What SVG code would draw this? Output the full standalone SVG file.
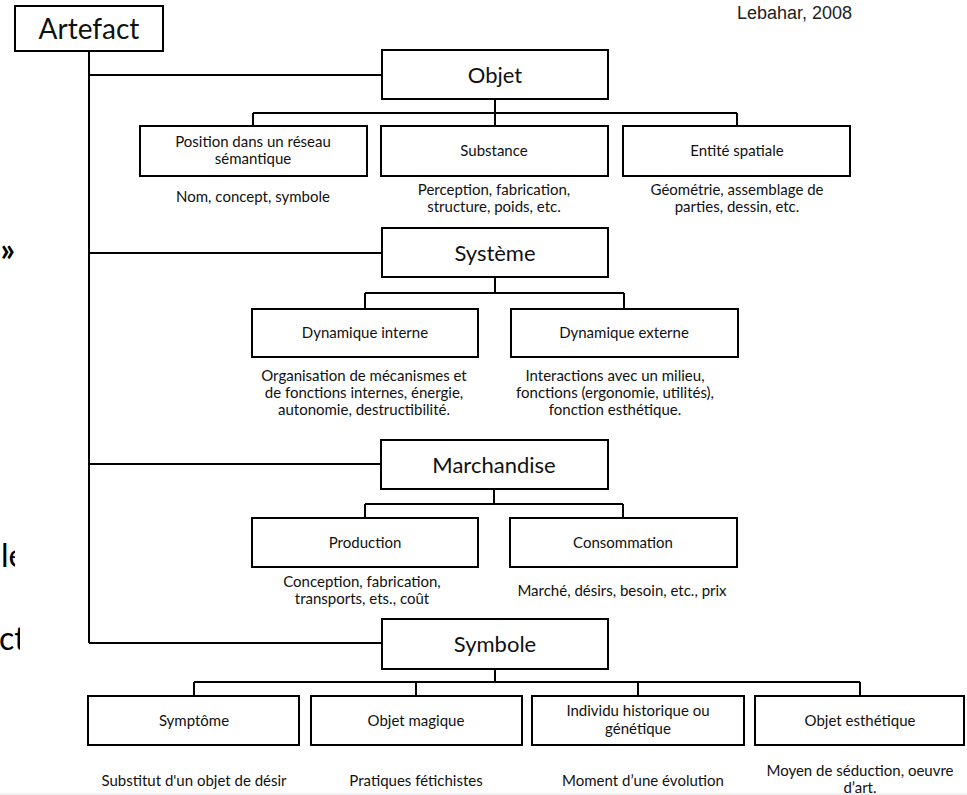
<svg xmlns="http://www.w3.org/2000/svg" width="967" height="795" viewBox="0 0 967 795">
<style>
  .box { fill: #fff; stroke: #000; stroke-width: 2; }
  .conn { fill: none; stroke: #000; stroke-width: 2; }
  text { font-family: Lato, "Open Sans", sans-serif; fill: #111; text-anchor: middle; }
  .big { font-size: 22px; }
  .top { font-size: 28px; }
  .sm { font-size: 15px; }
  .frag { font-size: 32px; text-anchor: start; fill: #000; }
  .cite { font-family: "Liberation Sans", Arial, sans-serif; font-size: 18px; text-anchor: start; fill: #222; }
</style>
<defs>
  <clipPath id="clipLeft"><rect x="0" y="0" width="15" height="795"/></clipPath>
  <clipPath id="clipLeft2"><rect x="0" y="0" width="20" height="795"/></clipPath>
</defs>
<rect x="0" y="0" width="967" height="795" fill="#fff"/>

<g id="fragments">
  <text class="frag" x="15" y="261" font-size="40" font-weight="bold" text-anchor="end" style="text-anchor:end" clip-path="url(#clipLeft)">»</text>
  <text class="frag" x="1" y="567" clip-path="url(#clipLeft)">le</text>
  <text class="frag" x="-1" y="650" clip-path="url(#clipLeft2)">ct</text>
</g>

<line x1="0" y1="794" x2="967" y2="794" stroke="#e4e4e4" stroke-width="1"/>

<text class="cite" x="737" y="19">Lebahar, 2008</text>

<g id="connectors">
  <path class="conn" d="M89 51 V643"/>
  <path class="conn" d="M89 75 H382 M89 253 H382 M89 464 H381 M89 643 H382"/>
  <path class="conn" d="M495 99 V126 M253 113 H737 M253 113 V126 M737 113 V126"/>
  <path class="conn" d="M495 277 V293 M365 293 H624 M365 293 V309 M624 293 V309"/>
  <path class="conn" d="M494 489 V504 M365 504 H623 M365 504 V518 M623 504 V518"/>
  <path class="conn" d="M495 669 V682 M194 682 H860 M194 682 V696 M416 682 V696 M638 682 V696 M860 682 V696"/>
</g>

<g id="artefact">
  <rect class="box" x="15" y="6" width="148" height="45"/>
  <text class="top" x="89" y="39">Artefact</text>
</g>

<g id="objet">
  <rect class="box" x="382" y="50" width="226" height="49"/>
  <text class="big" x="495" y="83">Objet</text>
</g>
<g id="position">
  <rect class="box" x="140" y="126" width="227" height="50"/>
  <text class="sm" x="253" y="147">Position dans un réseau</text>
  <text class="sm" x="253" y="164">sémantique</text>
  <text class="sm" x="253" y="202">Nom, concept, symbole</text>
</g>
<g id="substance">
  <rect class="box" x="381" y="126" width="227" height="50"/>
  <text class="sm" x="494" y="156">Substance</text>
  <text class="sm" x="494" y="195">Perception, fabrication,</text>
  <text class="sm" x="494" y="212">structure, poids, etc.</text>
</g>
<g id="entite">
  <rect class="box" x="623" y="126" width="227" height="50"/>
  <text class="sm" x="737" y="156">Entité spatiale</text>
  <text class="sm" x="737" y="195">Géométrie, assemblage de</text>
  <text class="sm" x="737" y="212">parties, dessin, etc.</text>
</g>

<g id="systeme">
  <rect class="box" x="382" y="228" width="226" height="49"/>
  <text class="big" x="495" y="261">Système</text>
</g>
<g id="dyn-interne">
  <rect class="box" x="252" y="309" width="226" height="48"/>
  <text class="sm" x="365" y="338">Dynamique interne</text>
  <text class="sm" x="364" y="381">Organisation de mécanismes et</text>
  <text class="sm" x="364" y="398">de fonctions internes, énergie,</text>
  <text class="sm" x="364" y="415">autonomie, destructibilité.</text>
</g>
<g id="dyn-externe">
  <rect class="box" x="511" y="309" width="227" height="48"/>
  <text class="sm" x="624" y="338">Dynamique externe</text>
  <text class="sm" x="615" y="381">Interactions avec un milieu,</text>
  <text class="sm" x="615" y="398">fonctions (ergonomie, utilités),</text>
  <text class="sm" x="615" y="415">fonction esthétique.</text>
</g>

<g id="marchandise">
  <rect class="box" x="381" y="440" width="227" height="49"/>
  <text class="big" x="494" y="473">Marchandise</text>
</g>
<g id="production">
  <rect class="box" x="252" y="518" width="226" height="49"/>
  <text class="sm" x="365" y="548">Production</text>
  <text class="sm" x="362" y="587">Conception, fabrication,</text>
  <text class="sm" x="362" y="604">transports, ets., coût</text>
</g>
<g id="consommation">
  <rect class="box" x="510" y="518" width="227" height="49"/>
  <text class="sm" x="623" y="548">Consommation</text>
  <text class="sm" x="622" y="596">Marché, désirs, besoin, etc., prix</text>
</g>

<g id="symbole">
  <rect class="box" x="382" y="619" width="226" height="50"/>
  <text class="big" x="495" y="652">Symbole</text>
</g>
<g id="symptome">
  <rect class="box" x="88" y="696" width="211" height="49"/>
  <text class="sm" x="194" y="726">Symptôme</text>
  <text class="sm" x="194" y="786">Substitut d'un objet de désir</text>
</g>
<g id="objet-magique">
  <rect class="box" x="311" y="696" width="211" height="49"/>
  <text class="sm" x="416" y="726">Objet magique</text>
  <text class="sm" x="416" y="786">Pratiques fétichistes</text>
</g>
<g id="individu">
  <rect class="box" x="532" y="696" width="212" height="49"/>
  <text class="sm" x="638" y="716">Individu historique ou</text>
  <text class="sm" x="638" y="734">génétique</text>
  <text class="sm" x="643" y="786">Moment d’une évolution</text>
</g>
<g id="objet-esthetique">
  <rect class="box" x="755" y="696" width="209" height="49"/>
  <text class="sm" x="860" y="776">Moyen de séduction, oeuvre</text>
  <text class="sm" x="860" y="793">d’art.</text>
  <text class="sm" x="860" y="726">Objet esthétique</text>
</g>
</svg>
